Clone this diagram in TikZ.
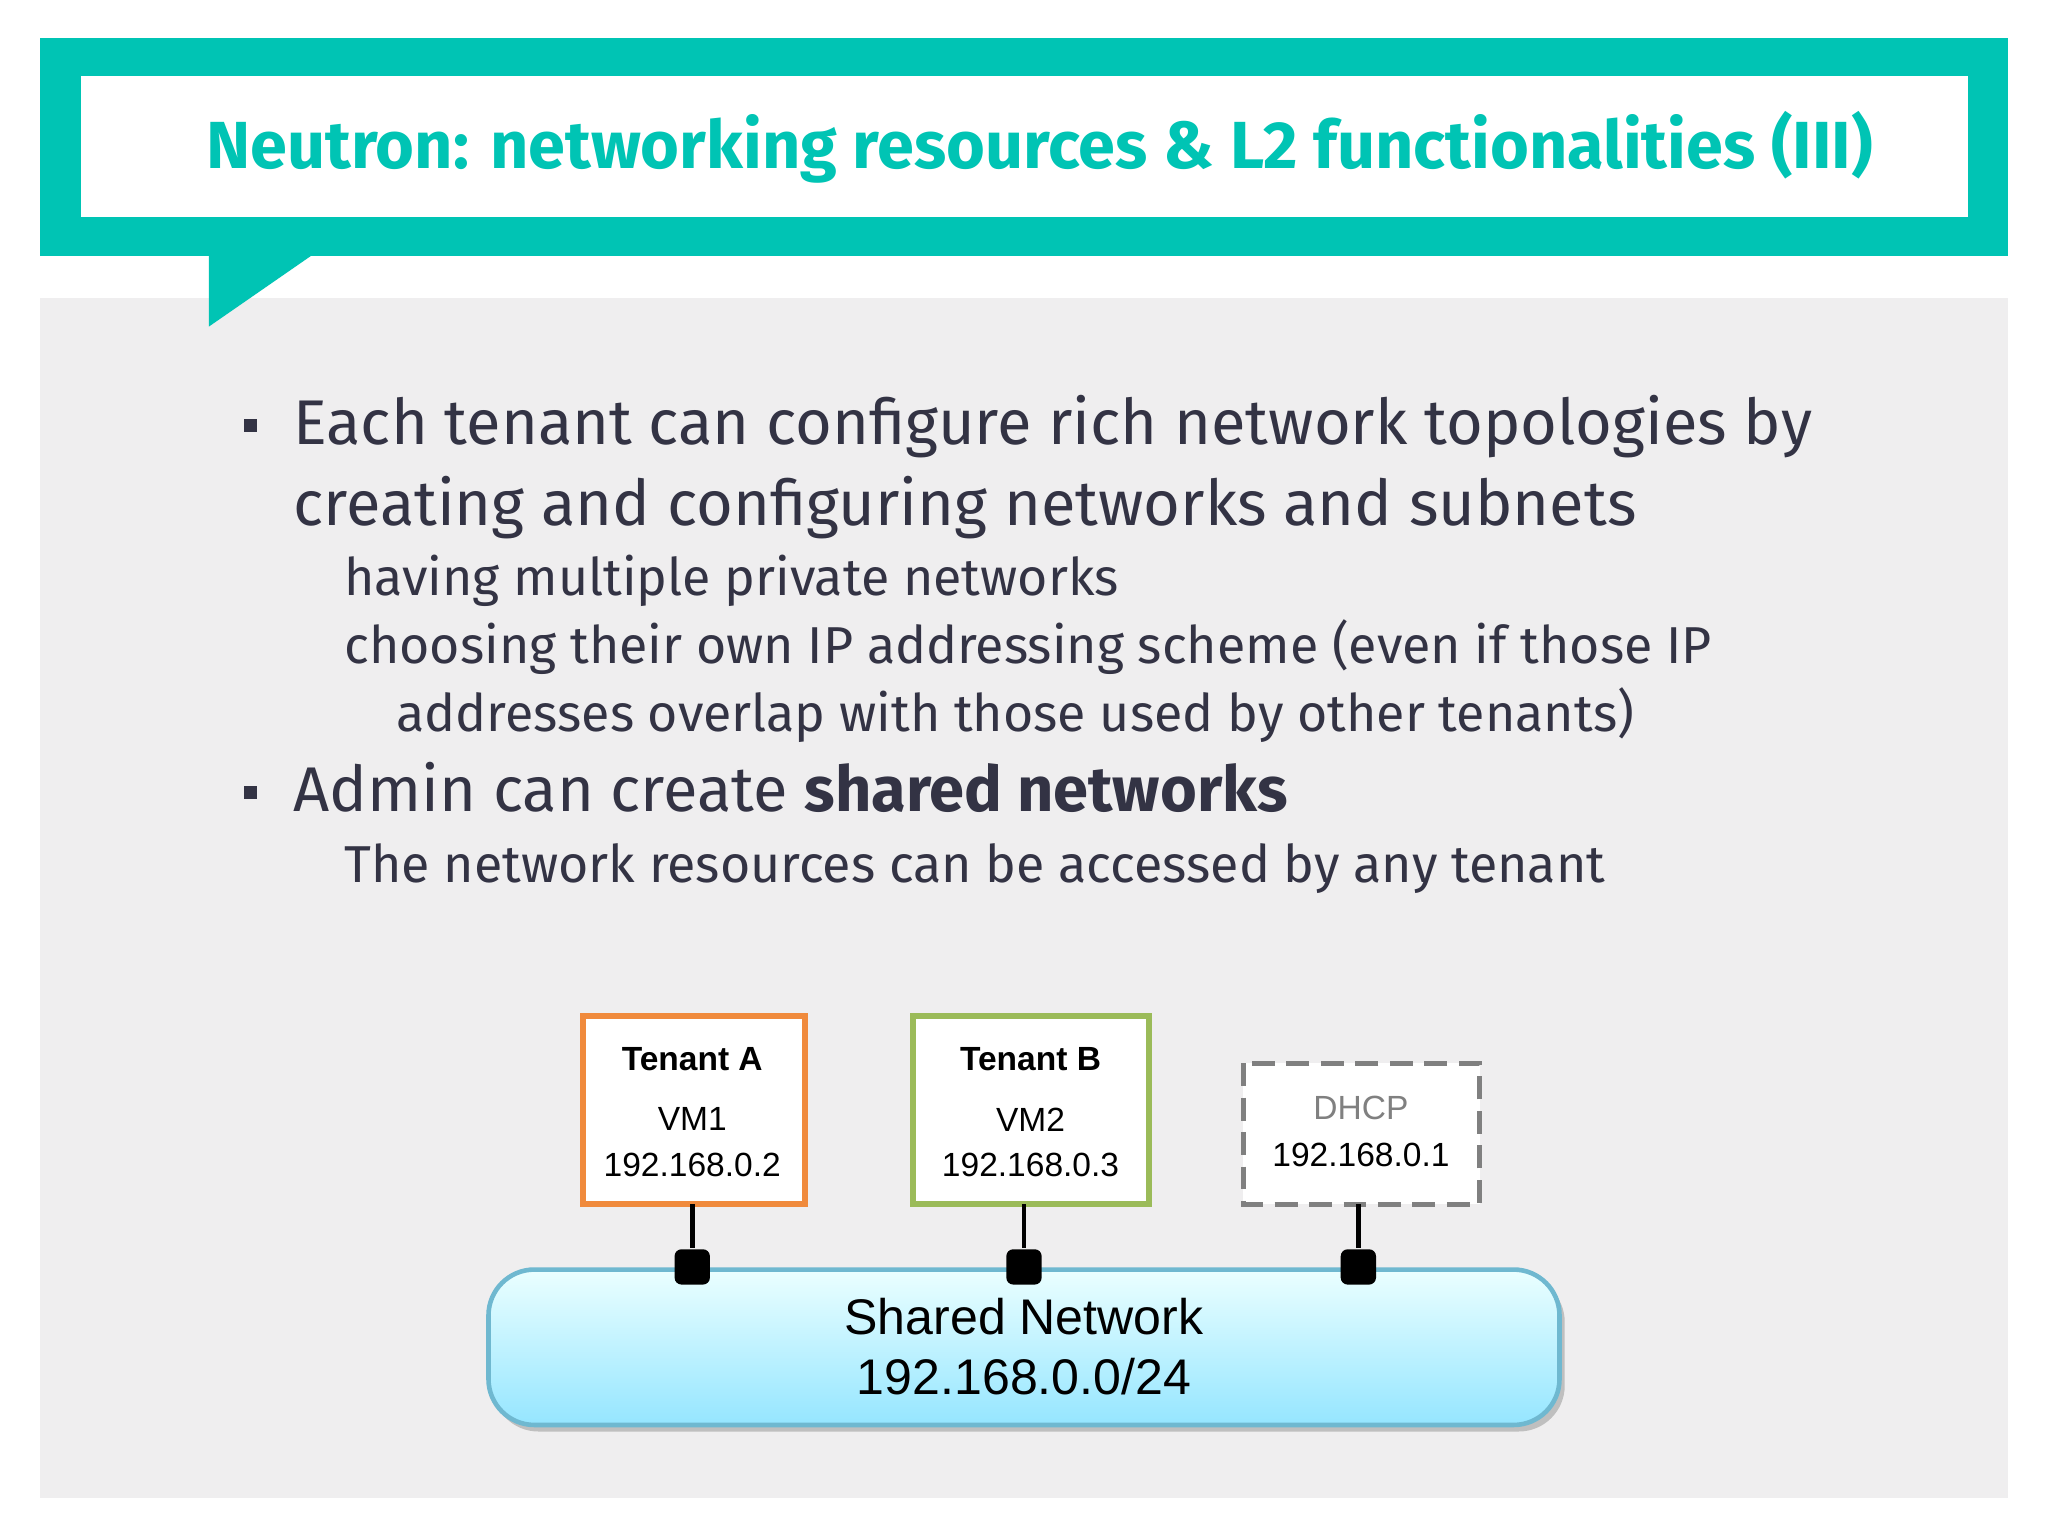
\documentclass[tikz,border=0pt]{standalone}
\usepackage{fontspec}
\setmainfont{Fira Sans}
\newfontfamily\arialf{Liberation Sans}
\definecolor{teal1}{HTML}{00C4B4}
\definecolor{panel}{HTML}{EFEEEF}
\definecolor{txt}{HTML}{333344}
\definecolor{orangeb}{HTML}{F08A3C}
\definecolor{greenb}{HTML}{9BBB59}
\definecolor{netb}{HTML}{6FB8D0}
\begin{document}
\begin{tikzpicture}[x=0.01cm,y=-0.01cm,
  bul/.style={anchor=base west,text=txt,font=\fontsize{13.75}{16}\selectfont,inner sep=0},
  sub/.style={anchor=base west,text=txt,font=\fontsize{11.3}{14}\selectfont,inner sep=0},
  tbox/.style={line width=1.3pt,fill=white},
  btxt/.style={font=\arialf\fontsize{7.3}{9}\selectfont,inner sep=0},
  port/.style={fill=black,rounded corners=1.5pt,minimum size=0.27cm,inner sep=0}]
\useasboundingbox (0,0) rectangle (1568,1176);
\fill[white] (0,0) rectangle (1568,1176);
\fill[panel] (31,228) rectangle (1537,1147);
\fill[teal1] (31,29) rectangle (1537,196);
\fill[teal1] (160,190) -- (238,196) -- (160,250) -- cycle;
\fill[white] (62,58) rectangle (1507,166);
\node[text=teal1,font=\bfseries\fontsize{14.5}{16}\selectfont] (title) at (796,113) {Neutron: networking resources \& L2 functionalities (III)};
\fill[txt] (187,321) rectangle (197,331);
\fill[txt] (187,602) rectangle (197,612);
\node[bul] (b1) at (224,340) {Each tenant can configure rich network topologies by};
\node[bul] (b1b) at (224,402) {creating and configuring networks and subnets};
\node[sub] (s1) at (263,456) {having multiple private networks};
\node[sub] (s2) at (263,508) {choosing their own IP addressing scheme (even if those IP};
\node[sub] (s3) at (303,560) {addresses overlap with those used by other tenants)};
\node[bul] (b2) at (224,621) {Admin can create \textbf{shared networks}};
\node[sub] (s4) at (263,676) {The network resources can be accessed by any tenant};
% boxes
\draw[tbox,draw=orangeb] (446,778) rectangle (616,922);
\draw[tbox,draw=greenb] (699,778) rectangle (880,922);
\draw[tbox,draw=gray,line width=1.1pt,dash pattern=on 5pt off 2.5pt] (952,814) rectangle (1133,922);
\node[btxt,font=\arialf\bfseries\fontsize{7.3}{9}\selectfont] (ta) at (530,811) {Tenant A};
\node[btxt] (vm1) at (530,857) {VM1};
\node[btxt] (ip1) at (530,892) {192.168.0.2};
\node[btxt,font=\arialf\bfseries\fontsize{7.3}{9}\selectfont] (tb) at (789,811) {Tenant B};
\node[btxt] (vm2) at (789,857) {VM2};
\node[btxt] (ip2) at (789,892) {192.168.0.3};
\node[btxt,text=gray] (dh) at (1042,848) {DHCP};
\node[btxt] (ip3) at (1042,884) {192.168.0.1};
% network
\fill[gray!50,rounded corners=10pt] (377,977) rectangle (1198,1096);
\shade[top color=cyan!8,bottom color=cyan!35!white!90!blue,rounded corners=10pt,draw=netb,line width=1pt] (374,972) rectangle (1194,1091);
\node[font=\arialf\fontsize{10.9}{12}\selectfont,inner sep=0] (sn) at (784,1008) {Shared Network};
\node[font=\arialf\fontsize{10.9}{12}\selectfont,inner sep=0] (snip) at (784,1054) {192.168.0.0/24};
\node[port] (p1) at (530,970) {};
\node[port] (p2) at (784,970) {};
\node[port] (p3) at (1040,970) {};
\coordinate (c1) at (530,922);\coordinate (c2) at (784,922);\coordinate (c3) at (1040,922);
\draw[line width=1pt] (c1) -- (p1); \draw[line width=1pt] (c2) -- (p2); \draw[line width=1pt] (c3) -- (p3);
\end{tikzpicture}
\end{document}
